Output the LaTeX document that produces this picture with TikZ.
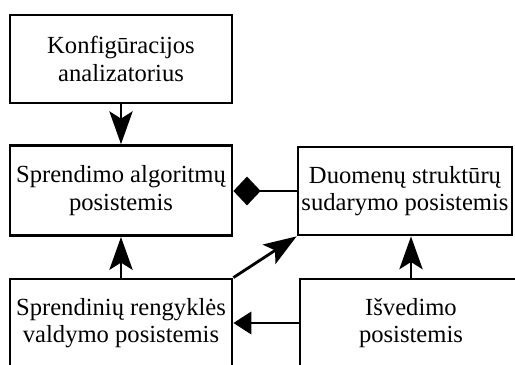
\documentclass[tikz,border=0pt]{standalone}
\usepackage{fontspec}
\setmainfont{Liberation Serif}
\usetikzlibrary{arrows.meta}

\tikzset{
    modul/.style={draw, line width=2pt, align=center, inner sep=0pt,
        minimum width=5.55cm, minimum height=2.2cm,
        font=\fontsize{17.5}{19.5}\selectfont},
    rod/.style={line width=2pt, -{Stealth[length=0.82cm,width=0.58cm,inset=0.18cm]}},
    rodt/.style={line width=2pt, -{Triangle[length=0.45cm,width=0.56cm]}},
    deim/.style={line width=2pt, -{Diamond[length=0.68cm,width=0.72cm]}}
}

\begin{document}
\begin{tikzpicture}
        \useasboundingbox (0,0) rectangle (12.875,9.125);
        \clip (0,0) rectangle (12.875,9.125);

        \node [modul] (konf) at (3.025,7.65) {Konfigūracijos\\analizatorius};
        \node [modul, minimum height=2.25cm] (spralg) at (3.025,4.36) {Sprendimo algoritmų\\posistemis};
        \node [modul, minimum width=5.35cm] (duom) at (10.125,4.35) {Duomenų struktūrų\\sudarymo posistemis};
        \node [modul] (rengykle) at (3.025,1.05) {Sprendinių rengyklės\\valdymo posistemis};
        \node [modul] (isved) at (10.275,1.05) {Išvedimo\\posistemis};

        \draw [rod] (konf) -- (spralg);
        \draw [rod] (rengykle) -- (spralg);
        \draw [rod] (rengykle.north east) -- (duom.south west);
        \draw [rod] (isved.north) -- (isved.north |- duom.south);
        \draw [rodt] (isved.west) -- (rengykle.east);
        \draw [deim] (duom.west) -- (spralg.east |- duom.west);
    \end{tikzpicture}
\end{document}
